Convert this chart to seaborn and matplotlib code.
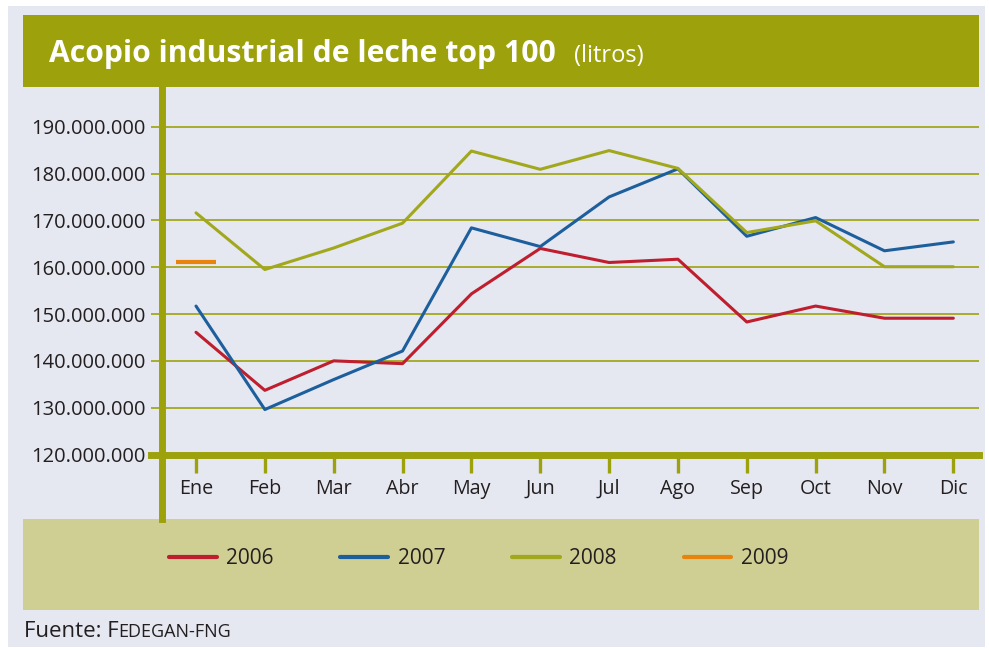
import numpy as np
import pandas as pd
import matplotlib
matplotlib.use("Agg")
import matplotlib.pyplot as plt
from matplotlib.patches import Rectangle
from matplotlib.lines import Line2D
from matplotlib.ticker import FuncFormatter
import seaborn as sns

# datos (litros)
meses = ["Ene", "Feb", "Mar", "Abr", "May", "Jun", "Jul", "Ago", "Sep", "Oct", "Nov", "Dic"]
litros_2006 = [146.1e6, 133.7e6, 140.0e6, 139.4e6, 154.3e6, 164.0e6, 161.0e6, 161.7e6, 148.3e6, 151.7e6, 149.1e6, 149.1e6]
litros_2007 = [151.7e6, 129.6e6, 136.0e6, 142.1e6, 168.4e6, 164.4e6, 175.0e6, 181.0e6, 166.6e6, 170.6e6, 163.5e6, 165.4e6]
litros_2008 = [171.6e6, 159.5e6, 164.1e6, 169.4e6, 184.8e6, 180.9e6, 184.9e6, 181.1e6, 167.4e6, 169.9e6, 160.1e6, 160.1e6]
litros_2009 = [161.2e6]
anios = ["2006", "2007", "2008", "2009"]
y_ticks = [120e6, 130e6, 140e6, 150e6, 160e6, 170e6, 180e6, 190e6]

OLIVA = "#9da20c"
CAQUI = "#cfcf93"
FONDO = "#e5e7f1"
TEXTO = "#231f20"
colores = {"2006": "#be1e2d", "2007": "#1d5f9c", "2008": "#a2a81c", "2009": "#e8830c"}

sns.set_style("white")
plt.rcParams["font.family"] = ["Open Sans", "DejaVu Sans"]

series = [litros_2006, litros_2007, litros_2008, litros_2009]
df = pd.concat(
    [pd.DataFrame({"mes": np.arange(len(v)), "litros": v, "anio": a}) for a, v in zip(anios, series)],
    ignore_index=True,
)

W, H = 989, 650
fig = plt.figure(figsize=(W / 100, H / 100), dpi=100)
fig.patch.set_facecolor("white")


def px_rect(x0, y0, x1, y1, color):
    fig.patches.append(Rectangle((x0 / W, 1 - y1 / H), (x1 - x0) / W, (y1 - y0) / H,
                                 transform=fig.transFigure, facecolor=color,
                                 edgecolor="none", zorder=-5))


px_rect(8, 6, 985, 647, FONDO)
px_rect(23, 15, 979, 87, OLIVA)
px_rect(23, 519, 979, 610, CAQUI)

ax = fig.add_axes([162 / W, 1 - 519 / H, (979 - 162) / W, (519 - 87) / H])
ax.set_zorder(2)
ax.set_facecolor("none")

sns.lineplot(data=df[df["anio"] != "2009"], x="mes", y="litros", hue="anio",
             palette=colores, hue_order=anios, linewidth=2.2, ax=ax, zorder=4,
             legend=False)
d09 = df[df["anio"] == "2009"]
ax.plot(d09["mes"], d09["litros"], linestyle="none", marker="_", markersize=29,
        markeredgewidth=3, color=colores["2009"], zorder=4)

px_per_m = 327.8 / 70
ax.set_ylim(120e6 - 64.5 / px_per_m * 1e6, 120e6 + 367.5 / px_per_m * 1e6)
ax.set_xlim(-0.494, 11.373)

ax.set_yticks(y_ticks)
ax.yaxis.set_major_formatter(FuncFormatter(lambda v, p: f"{int(v):,}".replace(",", ".")))
ax.set_xticks(range(len(meses)))
ax.set_xticklabels(meses)
ax.set_xlabel("")
ax.set_ylabel("")

ax.yaxis.grid(True, color=OLIVA, linewidth=1.2, zorder=1)
ax.xaxis.grid(False)
ax.tick_params(axis="y", left=True, direction="out", length=8, width=1.2, color=OLIVA,
               labelsize=14.5, labelcolor=TEXTO, pad=3.5)
ax.tick_params(axis="x", bottom=True, direction="out", length=13, width=2.4, color=OLIVA,
               labelsize=14.2, labelcolor=TEXTO, pad=4.5)

for s in ["top", "right"]:
    ax.spines[s].set_visible(False)
ax.spines["left"].set_color(OLIVA)
ax.spines["left"].set_linewidth(5)
ax.spines["bottom"].set_color(OLIVA)
ax.spines["bottom"].set_linewidth(5)
ax.spines["bottom"].set_position(("data", 120e6))
ax.spines["bottom"].set_bounds(-0.654, 11.373)
ax.spines["bottom"].set_zorder(3)

handles = [Line2D([], [], color=colores[a], linewidth=3) for a in anios]
fig.legend(handles, anios, loc="center left", bbox_to_anchor=(169 / W, 1 - 559 / H),
           ncol=4, frameon=False, fontsize=15, handlelength=2.3, handletextpad=0.45,
           columnspacing=3.2, borderpad=0, borderaxespad=0, labelcolor=TEXTO)

# titulo
r = fig.canvas.get_renderer()
fig.text(49 / W, 1 - 62 / H, "Acopio industrial de leche top 100", color="white",
         fontsize=21.7, fontweight="bold", va="baseline", ha="left")
fig.text(574 / W, 1 - 62 / H, "(litros)", color="white", fontsize=17,
         va="baseline", ha="left")

# fuente
f1 = fig.text(24 / W, 1 - 637 / H, "Fuente: F", color=TEXTO, fontsize=16,
              va="baseline", ha="left")
bb = f1.get_window_extent(renderer=r)
fig.text(bb.x1 / W, 1 - 637 / H, "EDEGAN-FNG", color=TEXTO, fontsize=13,
         va="baseline", ha="left")

fig.savefig("out.png", dpi=100, facecolor="white")
